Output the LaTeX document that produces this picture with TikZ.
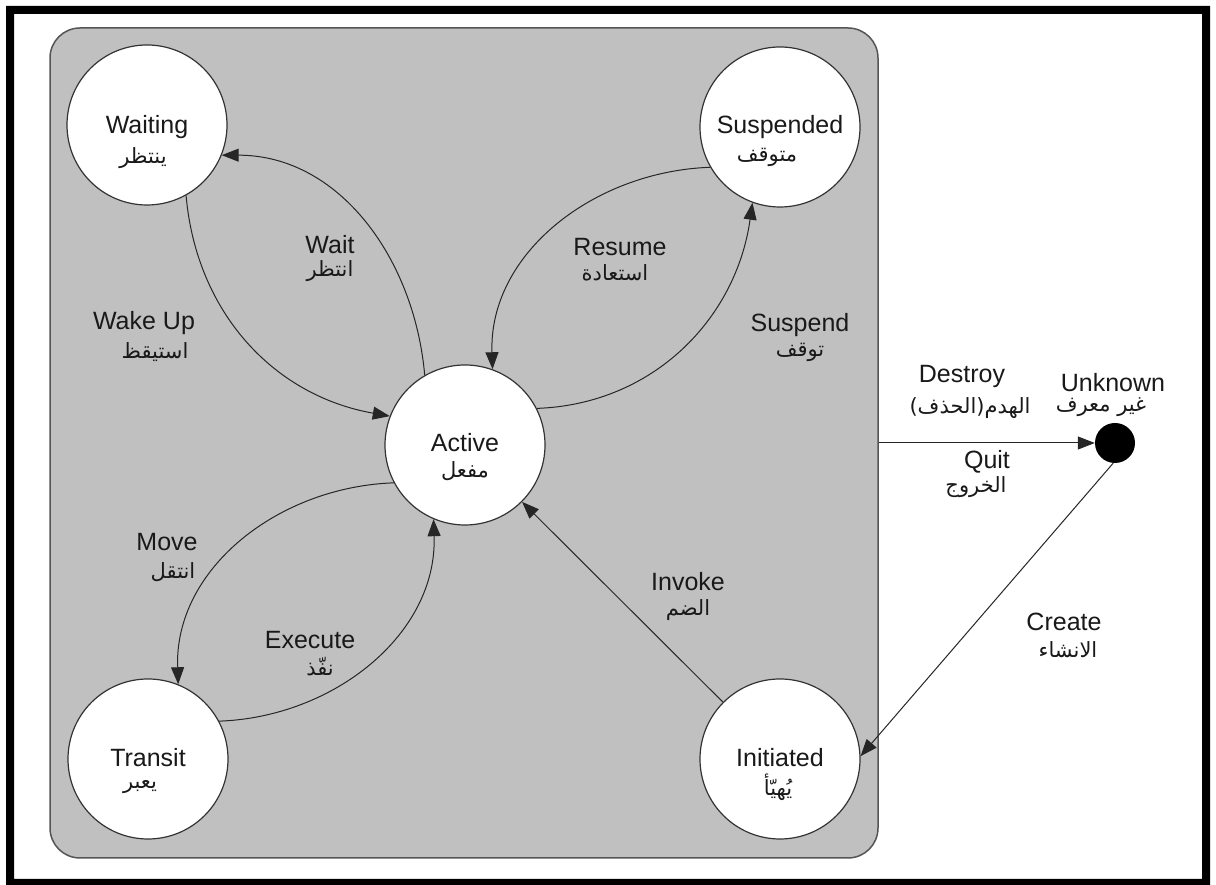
\documentclass[tikz,border=0pt]{standalone}
\usepackage{fontspec}
\setmainfont{Liberation Sans}
\newfontfamily\arabicfont[Script=Arabic]{DejaVu Sans}
\TeXXeTstate=1
\usetikzlibrary{arrows.meta}
\newcommand{\artxt}[1]{{\arabicfont\fontsize{21}{24}\selectfont\beginR #1\endR}}
\definecolor{boxgrey}{RGB}{192,192,192}
\definecolor{boxedge}{RGB}{85,85,85}
\tikzset{
  state/.style={circle, draw=black!80, fill=white, minimum size=160pt, inner sep=0pt, line width=1.2pt},
  endstate/.style={circle, fill=black, minimum size=40pt, inner sep=0pt},
  conn/.style={draw=black!85, line width=1pt, -{Triangle[length=17pt,width=13pt]}},
  lab/.style={text=black!90, inner sep=0pt},
}
\begin{document}
\begin{tikzpicture}[x=1pt,y=1pt,font=\fontsize{25}{30}\selectfont]
\useasboundingbox (0,0) rectangle (1216,885);
\fill[white] (0,0) rectangle (1216,885);
\fill[black,even odd rule] (6,0) rectangle (1210,879) (14,6) rectangle (1202,871);
\node[draw=boxedge, fill=boxgrey, rounded corners=30pt, minimum width=828pt, minimum height=830pt, inner sep=0pt, line width=1.5pt] (box) at (464,442) {};

\node[state] (waiting) at (147,760) {};
\node[state] (suspended) at (780,758) {};
\node[state] (active) at (465,440) {};
\node[state] (transit) at (148,126) {};
\node[state] (initiated) at (780,126) {};
\node[endstate] (unknown) at (1115,442) {};

\node[lab] (tw1) at (147,758) {Waiting};
\node[lab] (tw2) at (143,727) {\artxt{ينتظر}};
\node[lab] (ts1) at (780,758) {Suspended};
\node[lab] (ts2) at (767,728) {\artxt{متوقف}};
\node[lab] (ta1) at (465,442) {Active};
\node[lab] (ta2) at (465,414) {\artxt{مفعل}};
\node[lab] (tt1) at (148,127) {Transit};
\node[lab] (tt2) at (140,98) {\artxt{يعبر}};
\node[lab] (ti1) at (780,127) {Initiated};
\node[lab] (ti2) at (778,98) {\artxt{يُهيّأ}};

\draw[conn] (active.120) to[out=95,in=0] (waiting.-22);
\draw[conn] (waiting.-61) to[out=-85,in=170] (active.159);
\draw[conn] (suspended.210) to[out=182,in=92] (active.70);
\draw[conn] (active.27) to[out=2,in=262] (suspended.250);
\draw[conn] (active.208) to[out=182,in=92] (transit.68);
\draw[conn] (transit.28) to[out=2,in=272] (active.247);
\draw[conn] (initiated) -- (active);
\draw[conn] (box.east |- unknown) -- (unknown);
\draw[conn] (unknown.265) -- (initiated.2);

\node[lab] (lw1) at (330,640) {Wait};
\node[lab] (lw2) at (330,614) {\artxt{انتظر}};
\node[lab] (lk1) at (144,562) {Wake Up};
\node[lab] (lk2) at (155,533) {\artxt{استيقظ}};
\node[lab] (lr1) at (620,638) {Resume};
\node[lab] (lr2) at (615,612) {\artxt{استعادة}};
\node[lab] (lp1) at (800,560) {Suspend};
\node[lab] (lp2) at (800,533) {\artxt{توقف}};
\node[lab] (ld1) at (962,508) {Destroy};
\node[lab] (ld2) at (970,477) {\artxt{الهدم(الحذف)}};
\node[lab] (lu1) at (1113,502) {Unknown};
\node[lab] (lu2) at (1101,478) {\artxt{غير معرف}};
\node[lab] (lq1) at (987,423) {Quit};
\node[lab] (lq2) at (976,398) {\artxt{الخروج}};
\node[lab] (lm1) at (167,343) {Move};
\node[lab] (lm2) at (173,313) {\artxt{انتقل}};
\node[lab] (le1) at (310,245) {Execute};
\node[lab] (le2) at (320,218) {\artxt{نفّذ}};
\node[lab] (li1) at (688,303) {Invoke};
\node[lab] (li2) at (688,275) {\artxt{الضم}};
\node[lab] (lc1) at (1064,263) {Create};
\node[lab] (lc2) at (1068,235) {\artxt{الانشاء}};
\end{tikzpicture}
\end{document}
